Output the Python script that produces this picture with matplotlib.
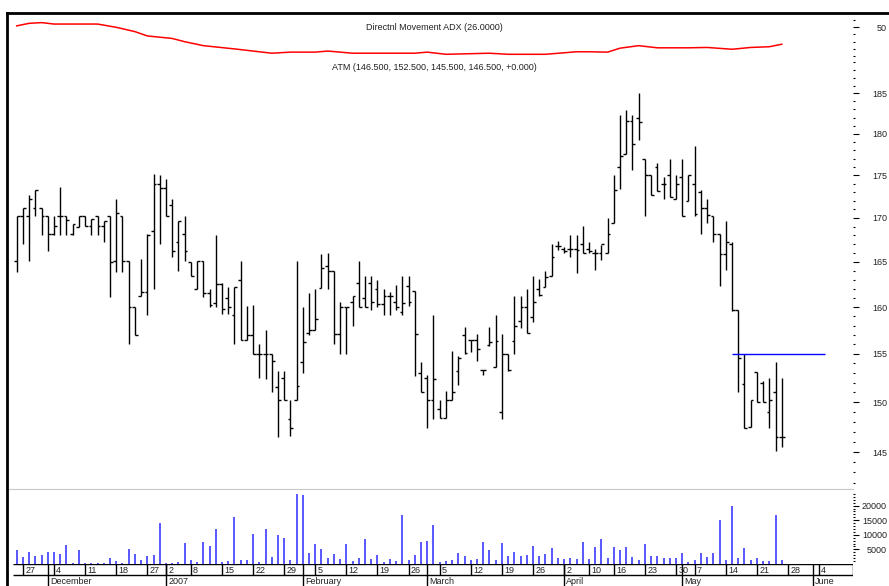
import matplotlib
matplotlib.use("Agg")
import matplotlib.pyplot as plt
from matplotlib.ticker import NullFormatter
from matplotlib.lines import Line2D

plt.rcParams['font.family'] = ['Liberation Sans', 'DejaVu Sans']

# daily bars, trading-day index 0..123 (24 Nov 2006 .. 25 May 2007)
opens = [165.1, 170.2, 170.2, 171.2, 171.2, 170.2, 168.1, 170.2, 170.2, 168.1,
         169.0, 170.2, 169.1, 170.2, 169.1, 170.2, 165.1, 170.2, 165.1, 160.0,
         161.2, 161.7, 168.5, 174.0, 173.5, 171.5, 167.2, 168.1, 165.0, 162.0,
         165.1, 161.5, 160.5, 162.5, 161.0, 159.2, 163.0, 156.5, 157.0, 155.0,
         155.0, 155.0, 151.5, 152.5, 148.3, 150.2, 154.1, 157.2, 157.5, 162.1,
         164.5, 164.0, 157.1, 160.0, 160.6, 162.6, 161.0, 162.6, 162.0, 160.3,
         161.2, 160.6, 159.5, 162.3, 161.8, 153.0, 152.5, 150.2, 149.3, 148.4,
         150.2, 153.2, 157.0, 156.5, 156.5, 153.3, 155.9, 153.6, 149.0, 155.0,
         156.4, 158.5, 160.0, 158.9, 162.0, 162.2, 163.4, 166.8, 166.5, 166.5,
         166.5, 167.0, 166.5, 166.0, 166.0, 166.0, 169.4, 176.0, 177.5, 181.6,
         182.0, 177.0, 175.0, 176.0, 174.0, 175.0, 172.2, 174.8, 172.0, 174.0,
         173.0, 171.2, 170.2, 168.1, 165.9, 167.0, 159.7, 151.9, 147.5, 153.1,
         152.0, 149.0, 151.0, 146.5]
highs = [170.2, 171.2, 172.7, 173.2, 171.2, 170.2, 170.2, 173.6, 170.2, 169.3,
         170.2, 170.2, 169.9, 170.2, 169.7, 170.2, 172.2, 170.2, 165.1, 160.0,
         165.3, 168.1, 175.1, 175.0, 174.5, 172.2, 169.6, 170.2, 165.0, 165.1,
         165.1, 162.0, 168.0, 162.6, 162.2, 162.2, 165.1, 160.1, 160.2, 156.0,
         157.5, 155.0, 153.2, 153.2, 150.2, 165.1, 160.0, 161.5, 162.0, 165.9,
         166.0, 164.0, 160.6, 160.0, 161.2, 165.1, 163.4, 163.4, 163.0, 162.0,
         161.6, 162.4, 163.4, 163.4, 161.8, 154.1, 152.8, 159.2, 150.2, 151.1,
         155.3, 154.8, 157.9, 156.5, 157.1, 153.3, 157.9, 159.2, 157.1, 155.0,
         161.2, 161.2, 162.0, 163.4, 163.1, 164.0, 167.0, 167.4, 166.7, 168.0,
         168.0, 169.1, 167.2, 166.5, 166.9, 170.0, 175.0, 182.3, 182.9, 182.3,
         185.0, 177.0, 175.0, 176.5, 174.8, 177.0, 175.0, 177.0, 175.0, 178.5,
         173.2, 172.2, 170.2, 168.1, 169.7, 167.2, 159.7, 155.0, 150.2, 153.1,
         152.2, 152.5, 154.1, 152.5]
lows = [163.9, 167.0, 165.1, 170.2, 168.0, 166.2, 168.0, 168.0, 168.0, 168.0,
        169.0, 169.1, 168.0, 168.0, 167.2, 161.1, 163.9, 163.9, 156.0, 157.0,
        161.2, 159.2, 162.0, 167.0, 170.2, 165.6, 164.0, 165.1, 163.4, 162.0,
        161.1, 160.0, 160.0, 159.3, 159.3, 156.0, 156.5, 156.5, 155.0, 152.5,
        152.4, 151.0, 146.5, 150.2, 146.6, 150.2, 153.0, 157.0, 157.5, 162.1,
        162.0, 156.0, 155.0, 155.0, 158.0, 160.0, 160.0, 159.7, 160.0, 159.2,
        159.1, 159.7, 159.2, 160.1, 152.7, 151.0, 147.4, 148.3, 148.4, 148.4,
        150.2, 151.8, 155.0, 155.2, 154.3, 152.8, 155.8, 153.6, 148.3, 153.2,
        155.0, 157.8, 157.2, 158.4, 161.2, 162.2, 163.4, 166.3, 166.0, 165.5,
        163.8, 166.0, 166.0, 164.1, 165.2, 166.0, 169.4, 173.4, 177.5, 175.6,
        179.3, 170.2, 172.7, 173.1, 172.2, 172.4, 172.2, 170.2, 172.0, 170.2,
        168.2, 169.4, 167.2, 162.3, 164.1, 159.6, 151.0, 147.4, 147.5, 150.0,
        150.0, 147.4, 145.1, 145.5]
closes = [170.2, 171.2, 172.2, 173.2, 170.2, 168.1, 169.1, 170.2, 169.8, 169.3,
          170.2, 169.1, 169.9, 169.1, 169.6, 165.0, 170.6, 165.1, 160.0, 157.0,
          161.7, 168.0, 174.0, 173.5, 170.2, 166.2, 169.6, 166.2, 163.4, 165.1,
          161.5, 160.2, 162.5, 159.8, 160.0, 162.2, 156.5, 157.0, 155.0, 155.0,
          155.0, 154.2, 150.2, 150.2, 147.4, 151.7, 156.3, 157.5, 158.7, 164.3,
          164.0, 157.1, 160.0, 160.0, 161.2, 160.0, 160.0, 160.6, 160.3, 161.2,
          161.2, 160.0, 160.5, 160.6, 157.1, 151.0, 150.2, 152.4, 148.4, 150.2,
          151.0, 154.6, 155.1, 156.5, 155.5, 153.3, 156.3, 156.4, 155.0, 153.3,
          158.0, 160.0, 157.2, 160.6, 161.3, 163.3, 165.5, 166.8, 166.2, 166.5,
          166.3, 166.0, 166.2, 166.0, 167.0, 168.2, 173.3, 177.3, 181.6, 178.7,
          181.4, 175.0, 172.7, 173.1, 174.0, 172.4, 174.0, 170.2, 175.0, 170.5,
          171.2, 170.3, 168.1, 165.9, 167.2, 159.7, 154.6, 147.4, 150.2, 150.0,
          150.0, 150.2, 146.5, 146.5]
volume_k = [4.8, 2.5, 4.2, 2.7, 3.2, 4.2, 4.0, 3.4, 6.5, 0.5,
            4.8, 0.4, 0.5, 0.5, 0.5, 2.1, 1.1, 0.5, 5.1, 3.4,
            1.5, 2.7, 3.2, 14.2, 0.5, 0.5, 0.8, 7.1, 1.3, 0.8,
            7.7, 6.3, 12.1, 0.7, 1.1, 16.2, 1.3, 1.3, 10.3, 0.7,
            12.1, 2.5, 10.1, 8.9, 1.2, 24.1, 23.6, 3.8, 6.8, 5.3,
            2.2, 3.4, 1.7, 6.9, 1.0, 1.9, 8.6, 1.7, 3.2, 0.7,
            1.7, 1.0, 16.9, 1.3, 3.0, 7.7, 7.9, 13.3, 0.7, 1.0,
            1.4, 3.9, 2.7, 1.4, 1.6, 7.4, 4.9, 1.4, 7.2, 2.7,
            4.1, 2.7, 3.0, 6.2, 2.7, 3.4, 5.4, 2.1, 1.8, 2.1,
            1.7, 7.4, 1.6, 5.7, 8.6, 1.9, 5.8, 4.7, 5.7, 2.4,
            1.4, 6.9, 2.7, 2.7, 1.9, 1.9, 1.9, 3.9, 0.7, 1.4,
            3.9, 2.4, 3.8, 15.0, 1.4, 19.8, 2.1, 5.4, 1.4, 1.9,
            1.1, 1.0, 16.8, 1.4]

# ADX line (sampled at these bar indices)
adx_idx = [0, 2, 4, 6, 13, 16, 19, 21, 25, 27, 30, 35, 38, 41, 44, 48, 50, 54,
           64, 66, 69, 76, 79, 85, 90, 92, 95, 97, 100, 103, 108, 111, 115,
           118, 121, 123]
adx_vals = [50.4, 51.1, 51.3, 50.9, 50.9, 50.0, 48.8, 47.6, 46.9, 46.0, 44.9,
            44.0, 43.4, 42.8, 43.1, 43.1, 43.4, 42.8, 42.8, 43.1, 42.5, 42.8,
            42.5, 42.5, 43.2, 43.2, 43.1, 44.2, 44.9, 44.3, 44.3, 44.4, 43.9,
            44.4, 44.6, 45.3]

# horizontal level line
level_price = 155.0
level_from, level_to = 115, 130

day_tick_idx = [1, 6, 11, 16, 21, 24, 28, 33, 38, 43, 48, 53, 58, 63, 68, 73,
                78, 83, 88, 92, 96, 101, 106, 109, 114, 119, 124, 129]
day_tick_labels = ['27', '4', '11', '18', '27', '2', '8', '15', '22', '29', '5',
                   '12', '19', '26', '5', '12', '19', '26', '2', '10', '16',
                   '23', '30', '7', '14', '21', '28', '4']
month_tick_idx = [5, 24, 46, 66, 88, 107, 128]
month_labels = ['December', '2007', 'February', 'March', 'April', 'May', 'June']

W, H = 889, 586
fig = plt.figure(figsize=(W / 100, H / 100), dpi=100)
fig.patch.set_facecolor('white')


def px_axes(x0, y0, x1, y1):
    return fig.add_axes([x0 / W, 1 - y1 / H, (x1 - x0) / W, (y1 - y0) / H])


x_left, x_right = -1.56, 134.45
n = len(closes)
idx = list(range(n))
FS = 6.5


def right_ticks(a, major_len=4.3, minor_len=1.5):
    a.yaxis.tick_right()
    a.tick_params(axis='y', which='major', direction='out', length=major_len,
                  width=0.8, pad=24.5 - major_len, labelsize=FS, colors='black',
                  labelcolor='#222222')
    a.tick_params(axis='y', which='minor', direction='out', length=minor_len,
                  width=0.8)
    a.set_xticks([])
    for s in a.spines.values():
        s.set_visible(False)


# price panel
ax = px_axes(7, 13, 853, 489)
ax.set_yscale('log')
ax.set_ylim(141.4, 195.4)
ax.set_xlim(x_left, x_right)
ax.vlines(idx, lows, highs, color='black', lw=1.0)
ax.hlines(opens, [i - 0.45 for i in idx], idx, color='black', lw=1.0)
ax.hlines(closes, idx, [i + 0.45 for i in idx], color='black', lw=1.0)
ax.hlines(level_price, level_from, level_to, color='#0000ff', lw=1.0)
right_ticks(ax)
majors = list(range(145, 186, 5))
ax.set_yticks(majors, labels=[str(v) for v in majors])
ax.set_yticks([v for v in range(142, 190) if v % 5], minor=True)
ax.yaxis.set_minor_formatter(NullFormatter())
plt.setp(ax.get_yticklabels(), ha='right')

# ADX strip on top
adx_ax = px_axes(7, 13, 853, 80)
adx_ax.patch.set_visible(False)
adx_ax.set_xlim(x_left, x_right)
adx_ax.set_ylim(35.36, 53.97)
adx_ax.plot(adx_idx, adx_vals, color='#ff0000', lw=1.1)
right_ticks(adx_ax)
adx_ax.set_yticks([50], labels=['50'])
adx_ax.set_yticks([52, 48, 46, 44, 42], minor=True)
plt.setp(adx_ax.get_yticklabels(), ha='right')

# volume panel
vol_ax = px_axes(7, 489, 853, 564)
vol_ax.set_xlim(x_left, x_right)
vol_ax.set_ylim(0, 25700)
vol_ax.vlines(idx, 0, [v * 1000 for v in volume_k], color='#2a2aff', lw=1.1)
right_ticks(vol_ax)
vol_ax.spines['top'].set_visible(True)
vol_ax.spines['top'].set_color('#c8c8c8')
vmaj = [5000, 10000, 15000, 20000]
vol_ax.set_yticks(vmaj, labels=[str(v) for v in vmaj])
vol_ax.set_yticks([v for v in range(1000, 26000, 1000) if v % 5000], minor=True)
plt.setp(vol_ax.get_yticklabels(), ha='right')

# date rows
date_ax = px_axes(7, 564, 853, 586)
date_ax.set_xlim(x_left, x_right)
date_ax.set_ylim(0, 2)
date_ax.axis('off')
date_ax.hlines([2, 1], x_left + 1, x_right, color='black', lw=1.0)
date_ax.vlines(day_tick_idx, 1, 2, color='black', lw=1.0)
date_ax.vlines(month_tick_idx, 0, 2, color='black', lw=1.0)
date_ax.vlines([x_right], 1, 2, color='black', lw=1.0)
for i, lab in zip(day_tick_idx, day_tick_labels):
    date_ax.text(i + 0.35, 1.45, lab, fontsize=FS, ha='left', va='center',
                 color='#222222')
for i, lab in zip(month_tick_idx, month_labels):
    date_ax.text(i + 0.35, 0.45, lab, fontsize=FS, ha='left', va='center',
                 color='#222222')

# frame lines and captions
fig.add_artist(Line2D([7 / W, 1], [1 - 13 / H] * 2, color='black', lw=2))
fig.add_artist(Line2D([7 / W] * 2, [0, 1 - 13 / H], color='black', lw=2))
fig.text(434 / W, 1 - 28 / H, 'Directnl Movement ADX (26.0000)', fontsize=FS,
         ha='center', va='center', color='#222222')
fig.text(434 / W, 1 - 67 / H, 'ATM (146.500, 152.500, 145.500, 146.500, +0.000)',
         fontsize=FS, ha='center', va='center', color='#222222')

fig.savefig('out.png', dpi=100)
